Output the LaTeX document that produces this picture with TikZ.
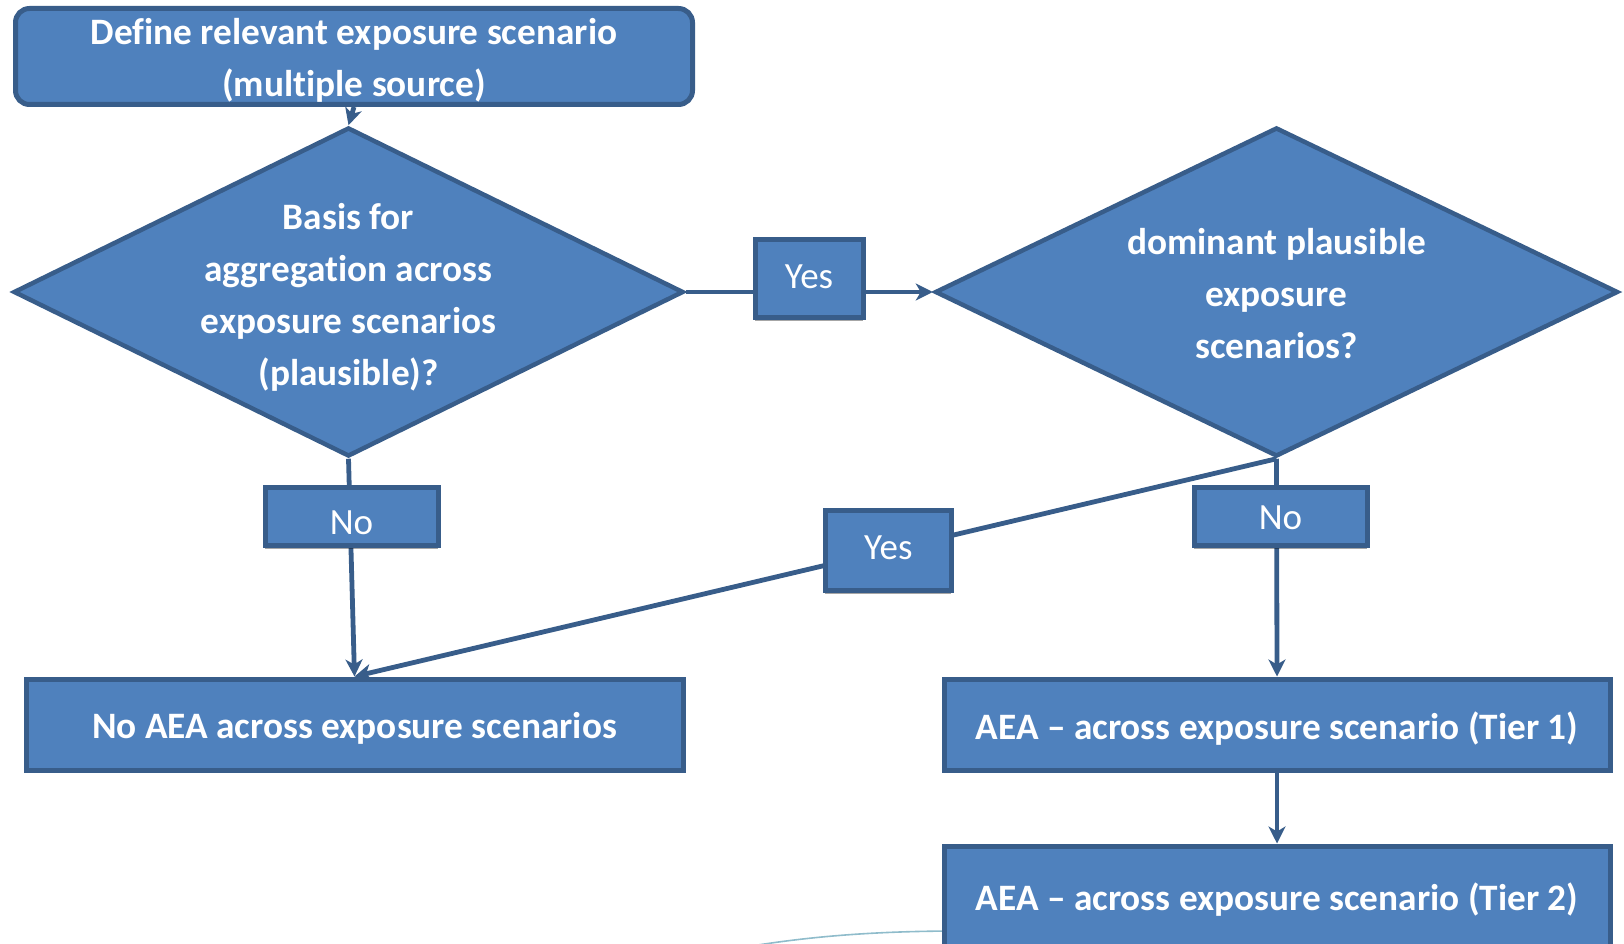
\documentclass[tikz,border=0pt]{standalone}
\usepackage{fontspec}
\setmainfont{Carlito}[Ligatures=NoCommon]
\usetikzlibrary{shapes.geometric,arrows.meta,shadows}
\definecolor{boxfill}{HTML}{4F81BD}
\definecolor{boxline}{HTML}{385D8A}
\definecolor{swoosh}{HTML}{8FBCCB}
% lower (or raise) a label's text inside its box without changing the box
\newcommand{\shiftlbl}[2]{\raisebox{#1}[\height][\depth]{#2}}
\begin{document}
\begin{tikzpicture}[x=1pt,y=-1pt,
  base/.style={fill=boxfill, draw=boxline, text=white, inner sep=0pt},
  procbox/.style={base, line width=5pt},
  decision/.style={base, diamond, line width=4.5pt},
  boxtext/.style={text=white, inner sep=0pt, align=center, yshift=-4pt,
    font=\bfseries\fontsize{37.3}{52}\selectfont},
  lbl/.style={base, line width=5pt, font=\fontsize{37}{44}\selectfont,
    drop shadow={shadow xshift=0pt, shadow yshift=-4pt, opacity=0.35, fill=black}},
  conn/.style={draw=boxline, line width=4.8pt,
    -{Stealth[length=17pt, width=17pt, inset=5pt]}},
]
\useasboundingbox (0,0) rectangle (1624,944);

% faint decorative curve behind the last box
\draw[swoosh, line width=1.6pt] (728,950) .. controls (800,937) and (870,931) .. (960,931);

% process boxes
\node[procbox, rounded corners=14pt, minimum width=677pt, minimum height=96pt]
  (define) at (354,56.5) {};
\node[boxtext] (definetext) at (define.center)
  {Define relevant exposure scenario\\(multiple source)};
\node[procbox, minimum width=657pt, minimum height=91pt] (noaea) at (354.5,724.5) {};
\node[boxtext] (noaeatext) at (noaea.center) {No AEA across exposure scenarios};
\node[procbox, minimum width=666pt, minimum height=91pt] (tier1) at (1277,724.5) {};
\node[boxtext] (tier1text) at (tier1.center) {AEA -- across exposure scenario (Tier 1)};
\node[procbox, minimum width=666pt, minimum height=100pt] (tier2) at (1277,896) {};
\node[boxtext] (tier2text) at (tier2.center) {AEA -- across exposure scenario (Tier 2)};

% decisions
\node[decision, minimum width=670pt, minimum height=329pt] (basis) at (348.5,292) {};
\node[boxtext, yshift=-1pt] (basistext) at (basis.center)
  {Basis for\\aggregation across\\exposure scenarios\\(plausible)?};
\node[decision, minimum width=683pt, minimum height=329pt] (dom) at (1276.5,292) {};
\node[boxtext, yshift=2pt] (domtext) at (dom.center)
  {dominant plausible\\exposure\\scenarios?};

% connectors
\draw[conn] (define.south) -- (basis.north);
\draw[conn] (basis.east) -- (dom.west);
\draw[conn] (basis.south) -- (noaea.north);
\draw[conn] (dom.south) -- node[lbl, pos=0.421, minimum width=126pt, minimum height=80pt]
  (yes2) {\shiftlbl{3pt}{Yes}} (noaea.north);
\draw[conn] (dom.south) -- (tier1.north);
\draw[conn] (tier1.south) -- (tier2.north);

% branch labels
\node[lbl, minimum width=108pt, minimum height=78pt] (yes1) at (809,278) {\shiftlbl{1pt}{Yes}};
\node[lbl, minimum width=173pt, minimum height=58pt] (no1) at (351.5,516) {\shiftlbl{-7pt}{No}};
\node[lbl, minimum width=173pt, minimum height=58pt] (no2) at (1280.5,516) {\shiftlbl{-2pt}{No}};
\end{tikzpicture}
\end{document}
